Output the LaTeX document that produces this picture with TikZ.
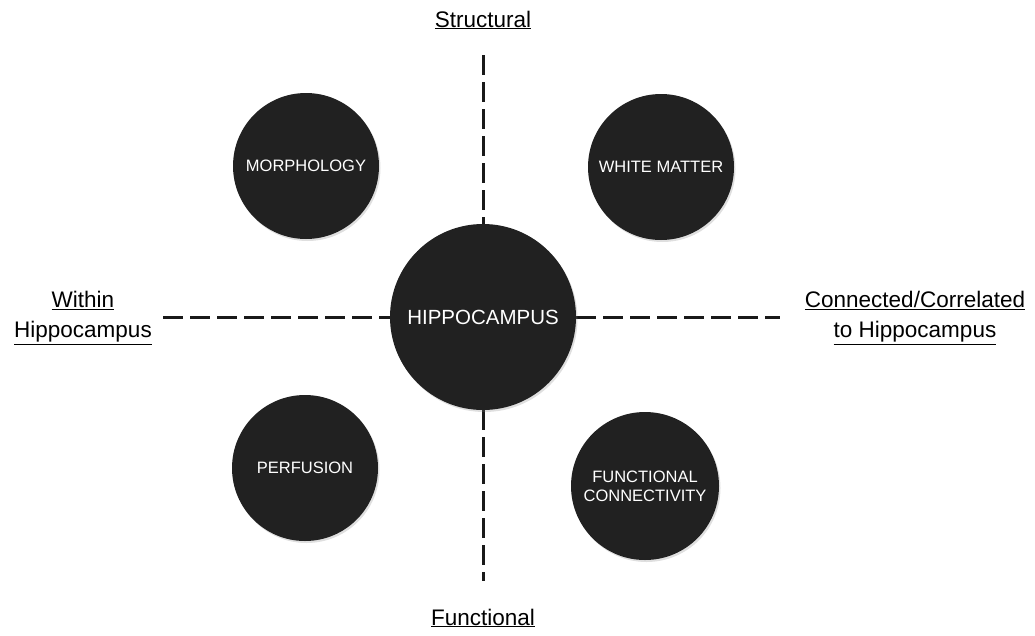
\documentclass[tikz,border=0pt]{standalone}
\usepackage{fontspec}
\setmainfont{Liberation Sans}
\usetikzlibrary{shadows,backgrounds}

\tikzset{
  topic/.style={circle, fill=black!87, text=white, inner sep=0pt,
    align=center, font=\fontsize{16.5}{19}\selectfont,
    drop shadow={opacity=0.25, shadow xshift=1.5pt, shadow yshift=-2pt}},
  axisline/.style={line width=3pt, dash pattern=on 20pt off 7pt, black!90},
  axislabel/.style={align=center, font=\fontsize{22.5}{30}\selectfont}
}

\begin{document}
\begin{tikzpicture}[x=1pt, y=-1pt]
            \useasboundingbox (0,0) rectangle (1035,635);

            % axis ends
            \coordinate(topend)at(483,55);
            \coordinate(bottomend)at(483,581);
            \coordinate(leftend)at(163,317);
            \coordinate(rightend)at(780,317);

            % centre
            \node[topic, minimum size=186pt, font=\fontsize{20.5}{24}\selectfont](hippo)at(483,317){HIPPOCAMPUS};

            % four measures
            \node[topic, minimum size=146pt](morph)at(306,166){MORPHOLOGY};
            \node[topic, minimum size=146pt](white)at(661,167){WHITE MATTER};
            \node[topic, minimum size=146pt](perf)at(305,468){PERFUSION};
            \node[topic, minimum size=148pt](fconn)at(645,486){FUNCTIONAL\\CONNECTIVITY};

            % dashed axes
            \begin{scope}[on background layer]
            \path[draw, axisline](topend)to(hippo.north);
            \path[draw, axisline](hippo.south)to(bottomend);
            \path[draw, axisline](leftend)to(hippo.west);
            \path[draw, axisline](hippo.east)to(rightend);
            \end{scope}

            % axis labels
            \node[axislabel](structural)at(483,20){\underline{Structural}};
            \node[axislabel](functional)at(483,618){\underline{Functional}};
            \node[axislabel](within)at(83,318){\underline{Within}\\\underline{Hippocampus}};
            \node[axislabel](connected)at(915,318){\underline{Connected/Correlated}\\\underline{to Hippocampus}};
        \end{tikzpicture}
\end{document}
